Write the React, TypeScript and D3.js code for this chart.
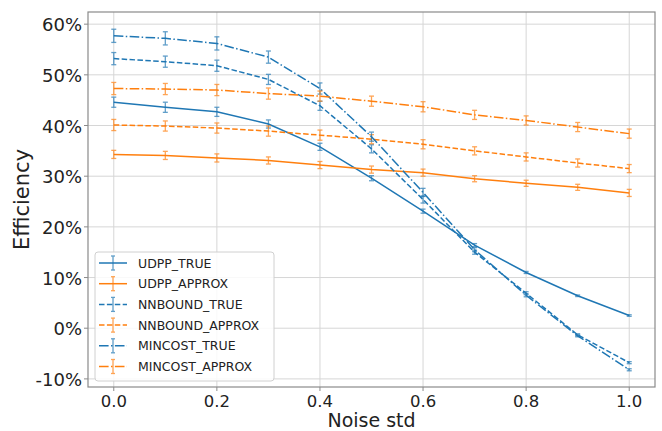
import * as d3 from "d3";

const noise = [0.0, 0.1, 0.2, 0.3, 0.4, 0.5, 0.6, 0.7, 0.8, 0.9, 1.0];

// efficiency in %
const udppTrue = [44.6, 43.6, 42.7, 40.3, 35.8, 29.6, 23.1, 16.4, 11.0, 6.4, 2.5];
const udppTrueErr = [1.0, 1.0, 0.9, 0.8, 0.7, 0.5, 0.4, 0.3, 0.2, 0.15, 0.15];
const udppApprox = [34.3, 34.1, 33.6, 33.1, 32.2, 31.3, 30.7, 29.5, 28.6, 27.8, 26.7];
const udppApproxErr = [0.8, 0.8, 0.8, 0.7, 0.7, 0.7, 0.7, 0.6, 0.6, 0.6, 0.7];
const nnboundTrue = [53.2, 52.6, 51.8, 49.1, 43.9, 35.4, 25.4, 15.0, 6.9, -1.3, -6.8];
const nnboundTrueErr = [1.2, 1.1, 1.1, 1.0, 0.9, 0.8, 0.7, 0.4, 0.3, 0.2, 0.2];
const nnboundApprox = [40.1, 39.9, 39.5, 38.9, 38.1, 37.3, 36.3, 35.0, 33.8, 32.6, 31.5];
const nnboundApproxErr = [1.1, 1.0, 1.0, 1.0, 1.0, 0.9, 0.9, 0.8, 0.8, 0.8, 0.8];
const mincostTrue = [57.7, 57.2, 56.2, 53.5, 47.3, 37.8, 26.8, 15.5, 6.5, -1.5, -8.2];
const mincostTrueErr = [1.3, 1.3, 1.3, 1.2, 1.1, 0.9, 0.8, 0.4, 0.3, 0.2, 0.2];
const mincostApprox = [47.3, 47.2, 47.0, 46.3, 45.8, 44.8, 43.7, 42.1, 41.0, 39.7, 38.4];
const mincostApproxErr = [1.2, 1.1, 1.1, 1.1, 1.0, 1.0, 1.0, 0.9, 0.9, 0.9, 0.9];

const xTicks = [0, 0.2, 0.4, 0.6, 0.8, 1.0];
const yTicks = [-10, 0, 10, 20, 30, 40, 50, 60];

const blue = "#1f77b4";
const orange = "#ff7f0e";
const dashed = "5.5,2.4";
const dashDot = "9.6,2.4,1.5,2.4";

const series = [
  { name: "UDPP_TRUE", values: udppTrue, err: udppTrueErr, color: blue, dash: "" },
  { name: "UDPP_APPROX", values: udppApprox, err: udppApproxErr, color: orange, dash: "" },
  { name: "NNBOUND_TRUE", values: nnboundTrue, err: nnboundTrueErr, color: blue, dash: dashed },
  { name: "NNBOUND_APPROX", values: nnboundApprox, err: nnboundApproxErr, color: orange, dash: dashed },
  { name: "MINCOST_TRUE", values: mincostTrue, err: mincostTrueErr, color: blue, dash: dashDot },
  { name: "MINCOST_APPROX", values: mincostApprox, err: mincostApproxErr, color: orange, dash: dashDot },
];

const width = 662;
const height = 431;
const left = 88;
const right = 655;
const top = 12;
const bottom = 387;
const font = "'DejaVu Sans', sans-serif";
const frameColor = "#8a8a8a";
const gridColor = "#d6d6d6";

export default function App() {
  const x = d3.scaleLinear().domain([-0.05, 1.05]).range([left, right]);
  const y = d3.scaleLinear().domain([-11.6, 62.4]).range([bottom, top]);

  const line = d3
    .line<number>()
    .x((_, i) => x(noise[i]))
    .y((d) => y(d));

  const legendX = 95;
  const legendY = 252;
  const rowH = 20.7;

  return (
    <svg
      width={width}
      height={height}
      style={{ position: "absolute", left: 0, top: 0, background: "#fff" }}
      fontFamily={font}
    >
      {/* grid */}
      {xTicks.map((t) => (
        <line key={"gx" + t} x1={x(t)} x2={x(t)} y1={top} y2={bottom} stroke={gridColor} strokeWidth={1} />
      ))}
      {yTicks.map((t) => (
        <line key={"gy" + t} x1={left} x2={right} y1={y(t)} y2={y(t)} stroke={gridColor} strokeWidth={1} />
      ))}

      {/* series */}
      {series.map((s) => (
        <g key={s.name}>
          <path
            d={line(s.values) ?? ""}
            fill="none"
            stroke={s.color}
            strokeWidth={1.5}
            strokeDasharray={s.dash || undefined}
          />
          {s.values.map((v, i) => {
            const cx = x(noise[i]);
            const y1 = y(v + s.err[i]);
            const y2 = y(v - s.err[i]);
            return (
              <g key={i} stroke={s.color} strokeWidth={1.3} opacity={0.7}>
                <line x1={cx} x2={cx} y1={y1} y2={y2} />
                <line x1={cx - 2.5} x2={cx + 2.5} y1={y1} y2={y1} />
                <line x1={cx - 2.5} x2={cx + 2.5} y1={y2} y2={y2} />
              </g>
            );
          })}
        </g>
      ))}

      {/* frame */}
      <rect x={left} y={top} width={right - left} height={bottom - top} fill="none" stroke={frameColor} strokeWidth={1.2} />

      {/* y axis */}
      {yTicks.map((t) => (
        <g key={"yt" + t}>
          <line x1={left - 4} x2={left} y1={y(t)} y2={y(t)} stroke={frameColor} />
          <text x={82} y={y(t) + 7} textAnchor="end" fontSize={18} fill="#222">
            {t + "%"}
          </text>
        </g>
      ))}
      {/* x axis */}
      {xTicks.map((t) => (
        <g key={"xt" + t}>
          <line x1={x(t)} x2={x(t)} y1={bottom} y2={bottom + 4} stroke={frameColor} />
          <text x={x(t)} y={407} textAnchor="middle" fontSize={16.5} fill="#222">
            {d3.format(".1f")(t)}
          </text>
        </g>
      ))}

      <text x={(left + right) / 2} y={426.5} textAnchor="middle" fontSize={19} fill="#222">
        Noise std
      </text>
      <text transform={`translate(29,${(top + bottom) / 2}) rotate(-90)`} textAnchor="middle" fontSize={21} fill="#222">
        Efficiency
      </text>

      {/* legend */}
      <rect x={legendX} y={legendY} width={179} height={129} rx={3} fill="#fff" fillOpacity={0.85} stroke="#d0d0d0" />
      {series.map((s, i) => {
        const cy = legendY + 11 + rowH * i;
        return (
          <g key={"lg" + s.name}>
            <line x1={99} x2={127} y1={cy} y2={cy} stroke={s.color} strokeWidth={1.5} strokeDasharray={s.dash || undefined} />
            <g stroke={s.color} strokeWidth={1.3} opacity={0.7}>
              <line x1={113} x2={113} y1={cy - 7} y2={cy + 7} />
              <line x1={111} x2={115} y1={cy - 7} y2={cy - 7} />
              <line x1={111} x2={115} y1={cy + 7} y2={cy + 7} />
            </g>
            <text x={138} y={cy + 4.5} fontSize={12.5} fill="#222">
              {s.name}
            </text>
          </g>
        );
      })}
    </svg>
  );
}
